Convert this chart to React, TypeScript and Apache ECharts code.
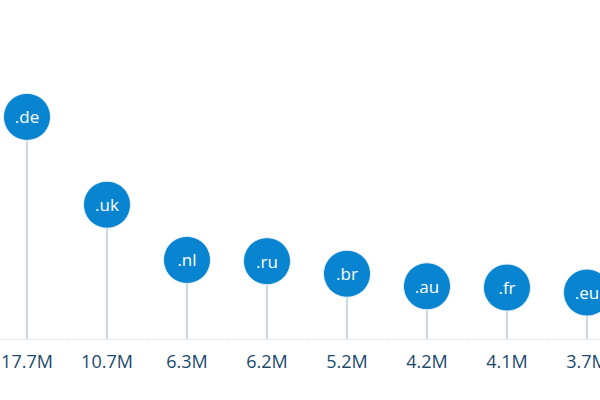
import React, { useEffect, useRef } from "react";
import * as echarts from "echarts";

const tlds = [".de", ".uk", ".nl", ".ru", ".br", ".au", ".fr", ".eu"];
const values = [17.7, 10.7, 6.3, 6.2, 5.2, 4.2, 4.1, 3.7];
const valueLabels = ["17.7M", "10.7M", "6.3M", "6.2M", "5.2M", "4.2M", "4.1M", "3.7M"];

export default function App() {
  const ref = useRef<HTMLDivElement>(null);
  useEffect(() => {
    if (!ref.current) return;
    const chart = echarts.init(ref.current, undefined, { renderer: "svg" });
    chart.setOption({
      animation: false,
      backgroundColor: "#ffffff",
      grid: { left: 0, right: 0, top: 88, bottom: 61 },
      xAxis: {
        type: "category",
        data: tlds,
        offset: 6,
        axisLine: { show: true, lineStyle: { color: "#e4ecf2", width: 1 } },
        axisTick: { show: true, length: 3, lineStyle: { color: "#dfe7ee" } },
        axisLabel: {
          color: "#1c4a6c",
          fontSize: 18,
          fontFamily: "Open Sans",
          margin: 7,
          formatter: (_v: string, i: number) => valueLabels[i],
        },
      },
      yAxis: {
        type: "value",
        min: 0,
        max: 20,
        show: false,
        splitLine: { show: false },
      },
      series: [
        {
          type: "bar",
          data: values,
          barWidth: 2,
          itemStyle: { color: "#ccd9e3" },
          silent: true,
        },
        {
          type: "scatter",
          data: values,
          symbol: "circle",
          symbolSize: 47,
          itemStyle: { color: "#0984d0", opacity: 1, borderColor: "#e8f2fa", borderWidth: 1 },
          label: {
            show: true,
            position: "inside",
            color: "#ffffff",
            fontSize: 17,
            fontFamily: "Open Sans",
            formatter: (p: any) => tlds[p.dataIndex],
          },
        },
      ],
    });
    return () => chart.dispose();
  }, []);
  return (
    <div style={{ position: "absolute", left: 0, top: 0, width: 600, height: 400, overflow: "hidden", background: "#fff" }}>
      <div ref={ref} style={{ position: "absolute", left: -13, top: 0, width: 640, height: 400 }} />
    </div>
  );
}
